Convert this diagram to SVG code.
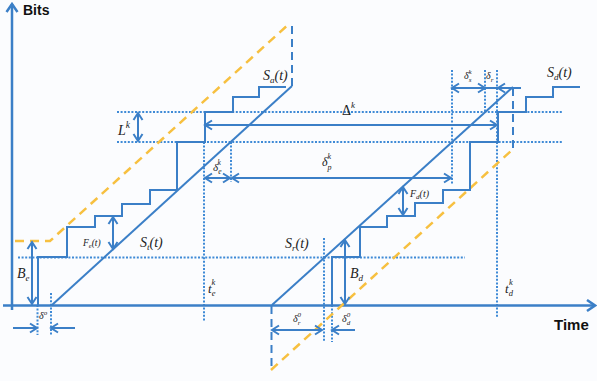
<svg xmlns="http://www.w3.org/2000/svg" width="597" height="381" viewBox="0 0 597 381">
<style>
.s{fill:none;stroke:#3b7fc7;stroke-width:2}
.ax{fill:none;stroke:#3b7fc7;stroke-width:2.5}
.dot{fill:none;stroke:#3f8ad6;stroke-width:2;stroke-dasharray:2 1.6}
.bd{fill:none;stroke:#3b7fc7;stroke-width:2;stroke-dasharray:8 5}
.yd{fill:none;stroke:#f7c040;stroke-width:2.5;stroke-dasharray:9 6}
.ar{fill:none;stroke:#3b7fc7;stroke-width:2;marker-end:url(#ah)}
.da{fill:none;stroke:#3b7fc7;stroke-width:2;marker-start:url(#ah);marker-end:url(#ah)}
.t{font-family:"Liberation Serif",serif;font-style:italic;fill:#222}
.b{font-family:"Liberation Sans",Arial,sans-serif;font-weight:bold;fill:#111}
</style>
<defs>
<marker id="ah" viewBox="-10 -6 12 12" refX="0" refY="0" markerWidth="12" markerHeight="12" markerUnits="userSpaceOnUse" orient="auto-start-reverse">
<path d="M-7,-4.5 L0,0 L-7,4.5" fill="none" stroke="#3b7fc7" stroke-width="2"/>
</marker>
<marker id="axh" viewBox="-10 -7 12 14" refX="0" refY="0" markerWidth="12" markerHeight="14" markerUnits="userSpaceOnUse" orient="auto">
<path d="M-8,-5.5 L0,0 L-8,5.5" fill="none" stroke="#3b7fc7" stroke-width="2.5"/>
</marker>
</defs>
<rect width="597" height="381" fill="#fbfcfe"/>

<g id="guides">
<path class="dot" d="M117,112 H563"/>
<path class="dot" d="M117,142 H562"/>
<path class="dot" d="M18,257.5 H465"/>
<path class="dot" d="M37.5,305 V335"/>
<path class="dot" d="M51,293 V335"/>
<path class="dot" d="M204,142 V322"/>
<path class="dot" d="M231,142 V182"/>
<path class="dot" d="M324,238 V342"/>
<path class="dot" d="M332,305 V342"/>
<path class="dot" d="M452,70 V185"/>
<path class="dot" d="M485,70 V112"/>
<path class="dot" d="M497,70 V318"/>
</g>

<g id="axes">
<path class="ax" d="M12,310 V4" marker-end="url(#axh)"/>
<path class="ax" d="M3,305.5 H595" marker-end="url(#axh)"/>
<text class="b" x="23" y="15" font-size="14">Bits</text>
<text class="b" x="554" y="330" font-size="15">Time</text>
</g>

<g id="left">
<path class="yd" d="M15,241 H50 L290,23"/>
<path class="bd" d="M292,86 V23"/>
<path class="s" d="M38,305 V257 H67 V227 H95 V216 H122 V204 H150 V190 H177 V142 H205 V112 H233 V97 H259 V87 H286"/>
<path class="s" d="M52,305 L292,86"/>
</g>

<g id="right">
<path class="yd" d="M271,370 L512,150"/>
<path class="bd" d="M271.5,306 V370"/>
<path class="bd" d="M513,88 V152"/>
<path class="s" d="M332,305 V257 H360 V227 H387 V216 H415 V203 H443 V190 H470 V142 H498 V112 H526 V97 H553 V87 H580"/>
<path class="s" d="M272,305 L513,87"/>
<path class="s" d="M485,88 H521"/>
</g>

<g id="connectors">
<path class="da" d="M205,125 H497"/>
<path class="da" d="M138,113 V141"/>
<path class="da" d="M205,178 H230"/>
<path class="da" d="M232,178 H451"/>
<path class="da" d="M113,217 V249"/>
<path class="da" d="M32,242 V304"/>
<path class="da" d="M403,187 V215"/>
<path class="da" d="M345,240 V304"/>
<path class="da" d="M452,88 H485"/>
<path class="ar" d="M521,88 H498"/>
<path class="ar" d="M13,328 H37"/>
<path class="ar" d="M75,328 H51"/>
<path class="da" d="M272,330 H322"/>
<path class="ar" d="M355,330 H332"/>
</g>

<g id="labels">
<text class="t" x="263" y="80" font-size="14">S<tspan font-size="9" dy="3">a</tspan><tspan dy="-3">(t)</tspan></text>
<text class="t" x="547" y="77" font-size="14">S<tspan font-size="9" dy="3">d</tspan><tspan dy="-3">(t)</tspan></text>
<text class="t" x="342" y="115" font-size="14"><tspan style="font-style:normal">Δ</tspan><tspan font-size="9" dy="-7">k</tspan></text>
<text class="t" x="118" y="135" font-size="14">L<tspan font-size="9.5" dy="-7">k</tspan></text>
<text class="t" x="213" y="171" font-size="11">δ<tspan font-size="7.5" dy="3">e</tspan><tspan font-size="7.5" dx="-4" dy="-9">k</tspan></text>
<text class="t" x="322" y="166" font-size="12">δ<tspan font-size="8" dy="4">p</tspan><tspan font-size="8" dx="-4" dy="-11">k</tspan></text>
<text class="t" x="83" y="246" font-size="9.5">F<tspan font-size="6.5" dy="2">e</tspan><tspan dy="-2">(t)</tspan></text>
<text class="t" x="140" y="247" font-size="14">S<tspan font-size="9" dy="3">t</tspan><tspan dy="-3">(t)</tspan></text>
<text class="t" x="285" y="248" font-size="14">S<tspan font-size="9" dy="3">r</tspan><tspan dy="-3">(t)</tspan></text>
<text class="t" x="410" y="197" font-size="10">F<tspan font-size="7" dy="2">d</tspan><tspan dy="-2">(t)</tspan></text>
<text class="t" x="17" y="278" font-size="14">B<tspan font-size="9" dy="3">e</tspan></text>
<text class="t" x="350" y="278" font-size="14">B<tspan font-size="9" dy="3">d</tspan></text>
<text class="t" x="208" y="293" font-size="13">t<tspan font-size="8.5" dy="3">e</tspan><tspan font-size="8.5" dx="-4" dy="-11">k</tspan></text>
<text class="t" x="505" y="293" font-size="13">t<tspan font-size="8.5" dy="3">d</tspan><tspan font-size="8.5" dx="-4" dy="-11">k</tspan></text>
<text class="t" x="39" y="319" font-size="10">δ<tspan font-size="7" dy="-4">o</tspan></text>
<text class="t" x="293" y="322" font-size="10">δ<tspan font-size="7" dy="3">r</tspan><tspan font-size="7" dx="-3" dy="-8">0</tspan></text>
<text class="t" x="342" y="322" font-size="10">δ<tspan font-size="7" dy="3">d</tspan><tspan font-size="7" dx="-3.5" dy="-8">0</tspan></text>
<text class="t" x="464" y="79" font-size="10">δ<tspan font-size="7" dy="3">s</tspan><tspan font-size="7" dx="-3" dy="-8">k</tspan></text>
<text class="t" x="486" y="79" font-size="10">δ<tspan font-size="7" dy="3">r</tspan></text>
</g>
</svg>
